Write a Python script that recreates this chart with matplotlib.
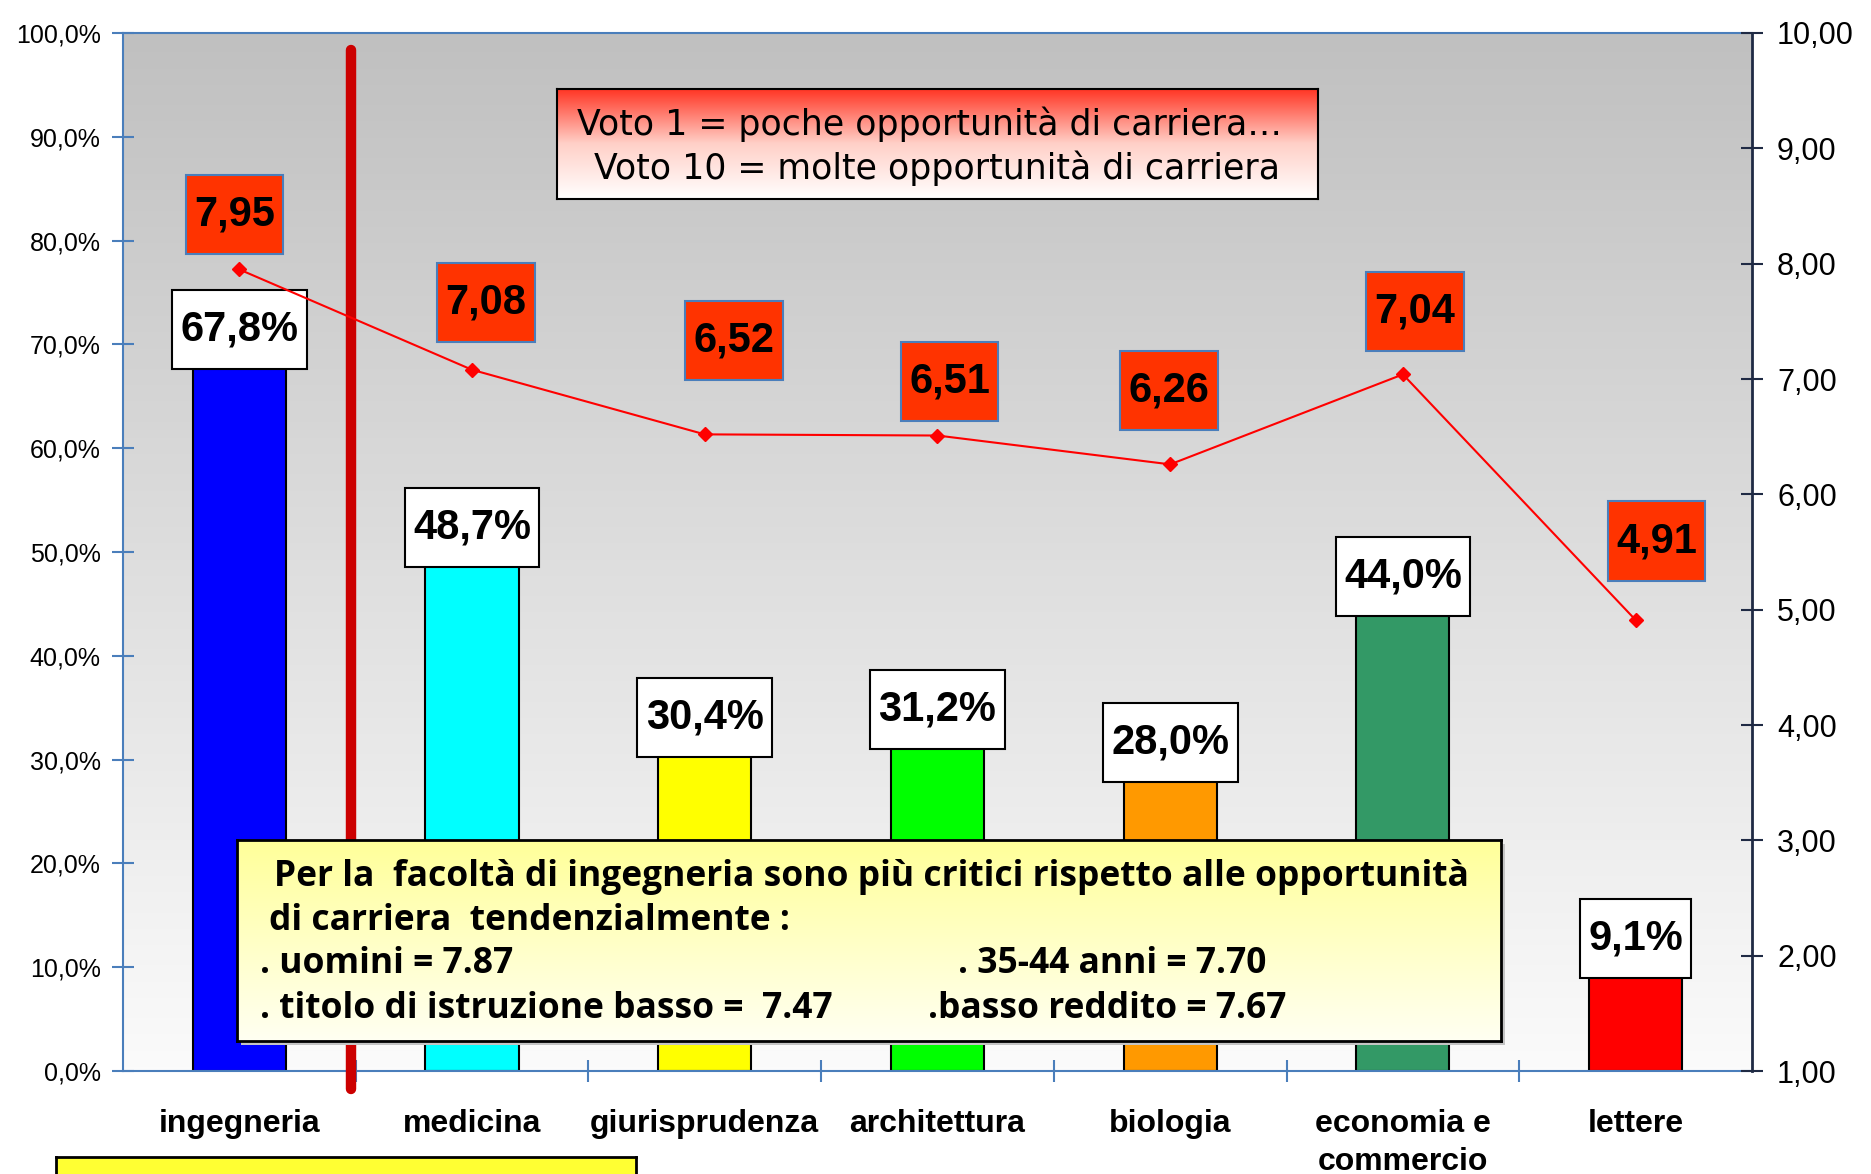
import numpy as np
import matplotlib.pyplot as plt
from matplotlib.colors import LinearSegmentedColormap
from matplotlib.path import Path

# data
facolta = ['ingegneria', 'medicina', 'giurisprudenza', 'architettura',
           'biologia', 'economia e\ncommercio', 'lettere']
quota = [67.8, 48.7, 30.4, 31.2, 28.0, 44.0, 9.1]
voto = [7.95, 7.08, 6.52, 6.51, 6.26, 7.04, 4.91]
bar_colors = ['#0000FF', '#00FFFF', '#FFFF00', '#00FF00', '#FF9900', '#339966', '#FF0000']

# label offsets (pixels) for the vote boxes
voto_dx = [-5, 14, 29, 12, -1, 12, 21]
voto_dy = [55, 67, 94, 54, 74, 63, 79]

blue = '#4A7EBB'


def tallbox(x0, y0, width, height, mutation_size):
    # rectangle with more padding top/bottom than left/right
    px = 0.2 * mutation_size
    py = 0.47 * mutation_size
    x0, y0 = x0 - px, y0 - py
    x1, y1 = x0 + width + 2 * px, y0 + height + 2 * py
    return Path([(x0, y0), (x1, y0), (x1, y1), (x0, y1), (x0, y0)], closed=True)


fig = plt.figure(figsize=(18.71, 11.74), dpi=100)
ax = fig.add_axes([0.0657, 0.0877, 0.8707, 0.8842])

x = np.arange(len(facolta))
ax.set_xlim(-0.5, len(facolta) - 0.5)
ax.set_ylim(0, 100)

# grey to white background
grad = np.linspace(0, 1, 256).reshape(-1, 1)
bg = LinearSegmentedColormap.from_list('bg', ['#FBFBFB', '#C0C0C0'])
ax.imshow(grad, extent=[0, 1, 0, 1], transform=ax.transAxes, origin='lower',
          cmap=bg, aspect='auto', zorder=0)
ax.patch.set_visible(False)

ax.bar(x, quota, width=0.4, color=bar_colors, edgecolor='black', linewidth=1.5, zorder=2)

for xi, q in zip(x, quota):
    ax.annotate(f'{q:.1f}%'.replace('.', ','), (xi, q), xytext=(0, 18),
                textcoords='offset pixels', ha='center', va='bottom',
                fontsize=30, fontweight='bold', family='Liberation Sans',
                bbox=dict(boxstyle=tallbox, fc='white', ec='black', lw=1.5),
                zorder=5)

# thick red separator
ax.plot([0.48, 0.48], [98.4, -1.7], color='#CC0000', lw=7.5,
        solid_capstyle='round', clip_on=False, zorder=3)

ax.set_yticks(np.arange(0, 101, 10))
ax.set_yticklabels([f'{v:.1f}%'.replace('.', ',') for v in np.arange(0, 101, 10)],
                   fontsize=18, family='Liberation Sans')
ax.set_xticks(x)
ax.set_xticklabels(facolta, fontsize=23, fontweight='bold', family='Liberation Sans',
                   linespacing=1.35, va='top')
ax.set_xticks(np.arange(0.5, len(facolta) - 0.5), minor=True)
ax.tick_params(axis='x', which='major', length=0, pad=27)
ax.tick_params(axis='x', which='minor', direction='inout', length=16, width=1.5, color=blue)
ax.tick_params(axis='y', direction='inout', length=16, width=1.5, color=blue, pad=8)

for s in ['left', 'bottom', 'top']:
    ax.spines[s].set_color(blue)
    ax.spines[s].set_linewidth(1.5)
ax.spines['right'].set_visible(False)

ax2 = ax.twinx()
ax2.set_ylim(1, 10)
ax2.plot(x, voto, color='#FF0000', lw=1.5, marker='D', markersize=7, zorder=4)
for xi, v, dx, dy in zip(x, voto, voto_dx, voto_dy):
    ax2.annotate(f'{v:.2f}'.replace('.', ','), (xi, v), xytext=(dx, dy),
                 textcoords='offset pixels', ha='center', va='center',
                 fontsize=30, fontweight='bold', family='Liberation Sans',
                 bbox=dict(boxstyle=tallbox, fc='#FF3300', ec=blue, lw=1.5),
                 zorder=5)
ax2.set_yticks(np.arange(1, 11))
ax2.set_yticklabels([f'{v:.2f}'.replace('.', ',') for v in np.arange(1, 11)],
                    fontsize=22, family='Liberation Sans')
ax2.tick_params(axis='y', direction='inout', length=16, width=1.5, color='#1F2A44', pad=10)
for s in ['left', 'bottom', 'top']:
    ax2.spines[s].set_visible(False)
ax2.spines['right'].set_color('#1F2A44')
ax2.spines['right'].set_linewidth(2)

# top legend box
box1 = fig.add_axes([0.2977, 0.8305, 0.4067, 0.0937], zorder=10)
redgrad = LinearSegmentedColormap.from_list('rg', ['#FFFFFF', '#FFD0C8', '#FF3322'])
box1.imshow(grad, extent=[0, 1, 0, 1], origin='lower', cmap=redgrad, aspect='auto')
box1.set_xlim(0, 1)
box1.set_ylim(0, 1)
box1.set_xticks([])
box1.set_yticks([])
for s in box1.spines.values():
    s.set_linewidth(1.5)
box1.text(0.49, 0.68, 'Voto 1 = poche opportunità di carriera…', ha='center', va='center',
          fontsize=25, family='DejaVu Sans')
box1.text(0.50, 0.28, 'Voto 10 = molte opportunità di carriera', ha='center', va='center',
          fontsize=25, family='DejaVu Sans')

# yellow note box
shadow = fig.add_axes([0.1287, 0.1103, 0.6756, 0.1712], zorder=10)
shadow.set_facecolor('#C4C4C4')
shadow.set_xticks([])
shadow.set_yticks([])
for s in shadow.spines.values():
    s.set_visible(False)
box2 = fig.add_axes([0.1267, 0.1133, 0.6756, 0.1712], zorder=11)
ygrad = LinearSegmentedColormap.from_list('yg', ['#FFFFF2', '#FFFF99'])
box2.imshow(grad, extent=[0, 1, 0, 1], origin='lower', cmap=ygrad, aspect='auto')
box2.set_xlim(0, 1)
box2.set_ylim(0, 1)
box2.set_xticks([])
box2.set_yticks([])
for s in box2.spines.values():
    s.set_linewidth(2)
kw = dict(fontsize=25.5, fontweight='bold', family='Open Sans', va='center', ha='left')
box2.text(0.029, 0.816, 'Per la  facoltà di ingegneria sono più critici rispetto alle opportunità', **kw)
box2.text(0.025, 0.597, 'di carriera  tendenzialmente :', **kw)
box2.text(0.018, 0.383, '. uomini = 7.87', **kw)
box2.text(0.570, 0.383, '. 35-44 anni = 7.70', **kw)
box2.text(0.018, 0.159, '. titolo di istruzione basso =  7.47', **kw)
box2.text(0.547, 0.159, '.basso reddito = 7.67', **kw)

# bottom yellow box (cut off)
box3 = fig.add_axes([0.0299, -0.02, 0.31, 0.0345], zorder=10)
box3.set_facecolor('#FFFF33')
box3.set_xticks([])
box3.set_yticks([])
for s in box3.spines.values():
    s.set_linewidth(2)

fig.savefig('out.png', dpi=100)
